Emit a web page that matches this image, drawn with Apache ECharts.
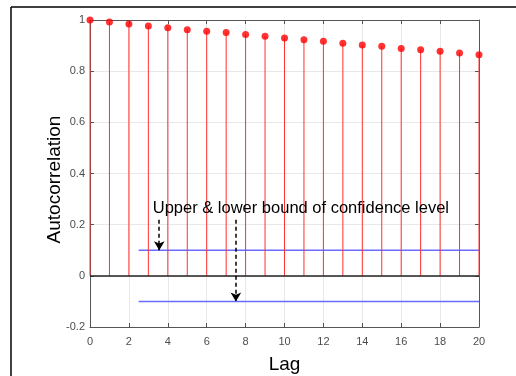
<!DOCTYPE html>
<html>
<head>
<meta charset="utf-8">
<script src="https://cdn.jsdelivr.net/npm/echarts@6/dist/echarts.min.js"></script>
<style>
  html, body { margin: 0; padding: 0; background: #fff; }
  #chart { width: 516px; height: 376px; }
</style>
</head>
<body>
<div id="chart"></div>
<script>
// lag 0..20 sample autocorrelation
const lags = [0, 1, 2, 3, 4, 5, 6, 7, 8, 9, 10, 11, 12, 13, 14, 15, 16, 17, 18, 19, 20]
const acf = [1.0, 0.992, 0.984, 0.977, 0.970, 0.962, 0.956, 0.951, 0.943, 0.936,
  0.930, 0.923, 0.917, 0.909, 0.902, 0.897, 0.889, 0.884, 0.878, 0.871, 0.864]
const boundLags = [2.5, 20]
const upperBound = 0.1
const lowerBound = -0.1
const noteText = 'Upper & lower bound of confidence level'
// arrows from the note down to each bound: [lag, yFrom, yTo]
const arrows = [[3.56, 0.219, 0.1], [7.5, 0.219, -0.1]]

const font = "'Liberation Sans', Arial, Helvetica, sans-serif"
const tickColor = '#4d4d4d'
const frameColor = '#555'

const chart = echarts.init(document.getElementById('chart'), null, { renderer: 'canvas' })

const stemData = lags.map((l, i) => [l, acf[i]])

chart.setOption({
  animation: false,
  textStyle: { fontFamily: font },
  grid: { left: 90, right: 37, top: 20, bottom: 49, containLabel: false, outerBoundsMode: 'none' },
  graphic: [
    { type: 'line', shape: { x1: 11, y1: 7, x2: 516, y2: 7 }, style: { stroke: '#000', lineWidth: 1.5 } },
    { type: 'line', shape: { x1: 11, y1: 7, x2: 11, y2: 376 }, style: { stroke: '#000', lineWidth: 1.5 } },
  ],
  xAxis: [
    {
      type: 'value', min: 0, max: 20, interval: 2,
      name: 'Lag', nameLocation: 'middle', nameGap: 28, nameMoveOverlap: false,
      nameTextStyle: { fontSize: 19, color: '#000', fontFamily: font },
      axisLine: { show: true, onZero: false, lineStyle: { color: frameColor } },
      axisTick: { show: true, inside: true, length: 4, lineStyle: { color: frameColor } },
      axisLabel: { color: tickColor, fontSize: 11, margin: 9, fontFamily: font },
      splitLine: { show: true, lineStyle: { color: '#e8e8e8' } },
    },
    {
      type: 'value', min: 0, max: 20, interval: 2, position: 'top',
      axisLine: { show: true, onZero: false, lineStyle: { color: frameColor } },
      axisTick: { show: true, inside: true, length: 4, lineStyle: { color: frameColor } },
      axisLabel: { show: false },
      splitLine: { show: false },
    },
  ],
  yAxis: [
    {
      type: 'value', min: -0.2, max: 1, interval: 0.2,
      name: 'Autocorrelation', nameLocation: 'middle', nameGap: 26, nameMoveOverlap: false,
      // extra right padding nudges the rotated label down a little, like the original
      nameTextStyle: { fontSize: 19, color: '#000', fontFamily: font, padding: [0, 12, 0, 0] },
      axisLine: { show: true, onZero: false, lineStyle: { color: frameColor } },
      axisTick: { show: true, inside: true, length: 4, lineStyle: { color: frameColor } },
      axisLabel: { color: tickColor, fontSize: 11, margin: 5, fontFamily: font },
      splitLine: { show: true, lineStyle: { color: '#e8e8e8' } },
    },
    {
      type: 'value', min: -0.2, max: 1, interval: 0.2, position: 'right',
      axisLine: { show: true, onZero: false, lineStyle: { color: frameColor } },
      axisTick: { show: true, inside: true, length: 4, lineStyle: { color: frameColor } },
      axisLabel: { show: false },
      splitLine: { show: false },
    },
  ],
  series: [
    {
      // stems
      type: 'custom',
      data: stemData,
      z: 3,
      renderItem: (params, api) => {
        const top = api.coord([api.value(0), api.value(1)])
        const base = api.coord([api.value(0), 0])
        return {
          type: 'line',
          shape: { x1: top[0], y1: top[1], x2: base[0], y2: base[1] },
          style: { stroke: '#ff3030', lineWidth: 1 },
        }
      },
    },
    {
      type: 'scatter',
      data: stemData,
      symbol: 'circle',
      symbolSize: 7,
      itemStyle: { color: '#ff0000' },
      z: 4,
      markLine: {
        silent: true,
        symbol: 'none',
        label: { show: false },
        lineStyle: { color: '#222', width: 1.5, type: 'solid' },
        data: [{ yAxis: 0 }],
      },
    },
    {
      type: 'line',
      data: boundLags.map(x => [x, upperBound]),
      symbol: 'none',
      lineStyle: { color: '#6b6bff', width: 1.5 },
      z: 2,
    },
    {
      type: 'line',
      data: boundLags.map(x => [x, lowerBound]),
      symbol: 'none',
      lineStyle: { color: '#6b6bff', width: 1.5 },
      z: 2,
      markLine: {
        silent: true,
        symbol: ['none', 'arrow'],
        symbolSize: [8, 9],
        label: { show: false },
        lineStyle: { color: '#000', width: 1.5, type: [4, 3] },
        data: arrows.map(a => [{ coord: [a[0], a[1]] }, { coord: [a[0], a[2]] }]),
      },
      markPoint: {
        silent: true,
        symbol: 'rect',
        symbolSize: 1,
        itemStyle: { color: 'transparent' },
        label: {
          show: true,
          position: 'right',
          distance: 0,
          formatter: noteText,
          color: '#000',
          fontSize: 16.5,
          fontFamily: font,
        },
        data: [{ coord: [3.2, 0.264] }],
      },
    },
  ],
})
</script>
</body>
</html>
